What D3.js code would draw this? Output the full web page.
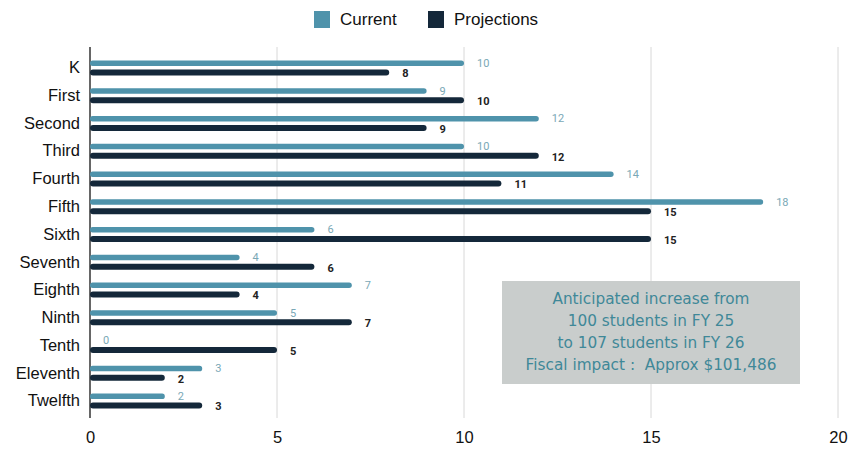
<!DOCTYPE html>
<html><head><meta charset="utf-8">
<script src="https://cdn.jsdelivr.net/npm/d3@7"></script>
<style>body{margin:0;background:#fff;}svg{display:block;}</style>
</head><body>
<svg id="c" width="849" height="449"></svg>
<script>
const categories = ["K","First","Second","Third","Fourth","Fifth","Sixth","Seventh","Eighth","Ninth","Tenth","Eleventh","Twelfth"];
const current = [10,9,12,10,14,18,6,4,7,5,0,3,2];
const projections = [8,10,9,12,11,15,15,6,4,7,5,2,3];
const xTicks = [0,5,10,15,20];
const seriesNames = ["Current","Projections"];
const note = ["Anticipated increase from","100 students in FY 25","to 107 students in FY 26","Fiscal impact :\u00a0 Approx $101,486"];

const colors = ["#4f93ab","#14283a"];
const labelFont = "'Liberation Sans', Arial, sans-serif";
const svg = d3.select("#c");
const x = d3.scaleLinear().domain([0,20]).range([90,838]);
const y = d3.scaleBand().domain(categories).range([54,415]).paddingInner(0).paddingOuter(0);

// gridlines
svg.append("g").selectAll("line").data(xTicks.slice(1)).join("line")
  .attr("x1",d=>x(d)).attr("x2",d=>x(d)).attr("y1",47).attr("y2",418)
  .attr("stroke","#d8d8d8").attr("stroke-width",1);

// axis line
svg.append("line").attr("x1",x(0)).attr("x2",x(0)).attr("y1",47).attr("y2",418)
  .attr("stroke","#333").attr("stroke-width",1.5);

// x tick labels
const xa = d3.axisBottom(x).tickValues(xTicks).tickSize(0).tickPadding(0);
const gx = svg.append("g").attr("transform","translate(0,431)").call(xa);
gx.select(".domain").remove();
gx.selectAll("text").attr("font-family",labelFont).attr("font-size",16.5).attr("fill","#111");

// y labels
const ya = d3.axisLeft(y).tickSize(0).tickPadding(10);
const gy = svg.append("g").attr("transform",`translate(${x(0)},0)`).call(ya);
gy.select(".domain").remove();
gy.selectAll("text").attr("font-family",labelFont).attr("font-size",16.5).attr("fill","#111");

const rows = categories.map((c,i)=>({c,cur:current[i],proj:projections[i]}));
const cy = d=>y(d.c)+y.bandwidth()/2;

// current bars
svg.append("g").selectAll("rect").data(rows).join("rect")
  .attr("x",x(0)).attr("y",d=>cy(d)-7.5).attr("width",d=>Math.max(0,x(d.cur)-x(0)))
  .attr("height",5.5).attr("rx",2.7).attr("fill",colors[0]);
// projection bars
svg.append("g").selectAll("rect").data(rows).join("rect")
  .attr("x",x(0)).attr("y",d=>cy(d)+1.5).attr("width",d=>Math.max(0,x(d.proj)-x(0)))
  .attr("height",6).attr("rx",3).attr("fill",colors[1]);

// value labels
svg.append("g").selectAll("text").data(rows).join("text")
  .attr("x",d=>x(d.cur)+13).attr("y",d=>cy(d)-5).attr("dy","0.35em")
  .attr("font-family","Roboto, Arial, sans-serif").attr("font-size",11)
  .attr("fill","#7aa8b6").text(d=>d.cur);
svg.append("g").selectAll("text").data(rows).join("text")
  .attr("x",d=>x(d.proj)+13).attr("y",d=>cy(d)+5.5).attr("dy","0.35em")
  .attr("font-family","Roboto, Arial, sans-serif").attr("font-size",11).attr("font-weight","bold")
  .attr("fill","#222").text(d=>d.proj);

// legend
const lg = svg.append("g");
const lx = [314,428];
seriesNames.forEach((n,i)=>{
  lg.append("rect").attr("x",lx[i]).attr("y",11).attr("width",16).attr("height",17).attr("fill",colors[i]);
  lg.append("text").attr("x",lx[i]+26).attr("y",19.5).attr("dy","0.35em")
    .attr("font-family",labelFont).attr("font-size",17).attr("fill","#111").text(n);
});

// annotation box
svg.append("rect").attr("x",502).attr("y",281).attr("width",298).attr("height",103).attr("fill","#c9cdcc");
svg.append("g").selectAll("text").data(note).join("text")
  .attr("x",651).attr("y",(d,i)=>299+i*22).attr("dy","0.35em").attr("text-anchor","middle")
  .attr("font-family","'DejaVu Sans', sans-serif").attr("font-size",15.3)
  .attr("fill","#3f8898").text(d=>d);
</script>
</body></html>
